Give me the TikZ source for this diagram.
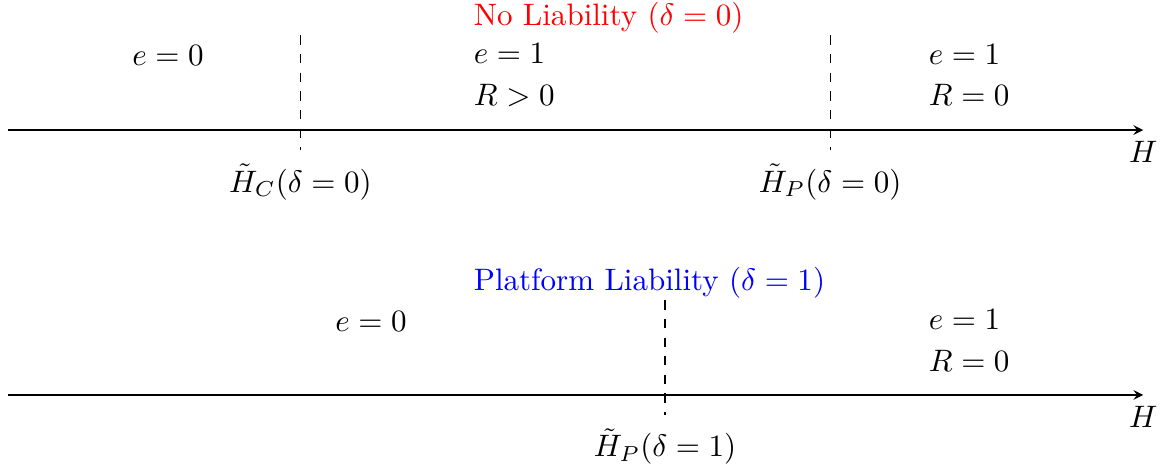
\documentclass[tikz,border=0pt]{standalone}
\usepackage{amsmath}
\usepackage{tikz}

\begin{document}
\begin{tikzpicture}[x=0.9744cm,y=0.9744cm,line width=0.4pt,>=stealth]
  \useasboundingbox (-0.093,1.512) rectangle (13.465,-3.907);

  % no liability
  \coordinate (nl0) at (0,0);
  \coordinate (nl1) at (13.2,0);
  \draw[->] (nl0) -- (nl1) node[below] (hnl) {$H$};
  \node[red,anchor=west] (tnl) at (5.29,1.31) {No Liability ($\delta=0$)};
  \node (enl0) at (1.86,0.87) {$e=0$};
  \node[anchor=west,align=left] (enl1) at (5.29,0.64) {$e=1$\\[1.4pt]$R>0$};
  \node[anchor=west,align=left] (enl2) at (10.58,0.64) {$e=1$\\[1.4pt]$R=0$};

  % platform liability
  \coordinate (pl0) at (0,-3.08);
  \coordinate (pl1) at (13.2,-3.08);
  \draw[->] (pl0) -- (pl1) node[below] (hpl) {$H$};
  \node[blue,anchor=west] (tpl) at (5.29,-1.78) {Platform Liability ($\delta=1$)};
  \node (epl0) at (4.22,-2.23) {$e=0$};
  \node[anchor=west,align=left] (epl1) at (10.58,-2.45) {$e=1$\\[1.4pt]$R=0$};

  % thresholds
  \foreach \n/\x/\y/\lab in {
    hc0/3.4/0/{\tilde{H}_C(\delta=0)},
    hp0/9.56/0/{\tilde{H}_P(\delta=0)},
    hp1/7.64/-3.08/{\tilde{H}_P(\delta=1)}}
  {
    \coordinate (\n top) at (\x,\y+1.1);
    \coordinate (\n bot) at (\x,\y-0.23);
    \draw[dashed] (\n top) -- (\n bot);
    \node (\n lab) at (\x,\y-0.6) {$\lab$};
  }
\end{tikzpicture}
\end{document}
